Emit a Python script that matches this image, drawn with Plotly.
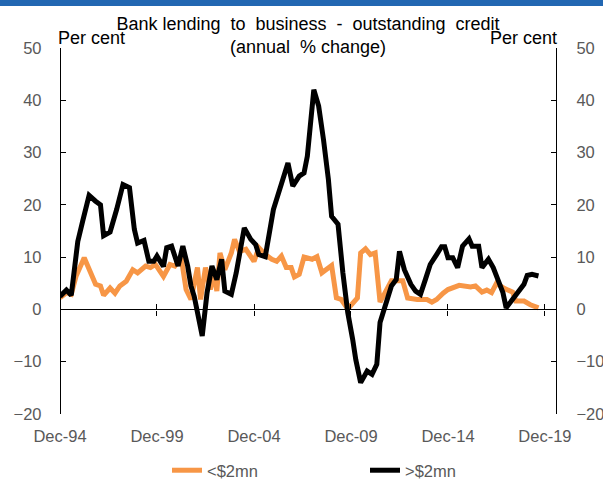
import plotly.graph_objects as go

# ---- data ----
small_dates = ["1994-12", "1995-04", "1995-07", "1995-10", "1996-03", "1996-07", "1996-10", "1997-01",
               "1997-03", "1997-07", "1997-10", "1998-01", "1998-05", "1998-09", "1998-12", "1999-05",
               "1999-08", "1999-11", "2000-04", "2000-08", "2000-11", "2001-03", "2001-06", "2001-09",
               "2002-01", "2002-03", "2002-06", "2002-09", "2002-11", "2003-01", "2003-03", "2003-06",
               "2003-10", "2003-12", "2004-03", "2004-07", "2004-12", "2005-03", "2005-07", "2005-11",
               "2006-02", "2006-05", "2006-08", "2006-11", "2007-01", "2007-04", "2007-07", "2007-12",
               "2008-03", "2008-06", "2008-09", "2008-12", "2009-03", "2009-06", "2009-10", "2010-04",
               "2010-06", "2010-09", "2010-12", "2011-03", "2011-06", "2011-11", "2012-01", "2012-08",
               "2012-11", "2013-05", "2013-11", "2014-02", "2014-05", "2014-09", "2014-12", "2015-07",
               "2016-02", "2016-05", "2016-09", "2016-12", "2017-03", "2017-06", "2017-11", "2018-04",
               "2018-06", "2018-11", "2019-03", "2019-08"]
small_values = [2.2, 3.2, 2.9, 6.4, 9.9, 7.3, 4.8, 4.5,
                2.7, 4.1, 3.1, 4.5, 5.4, 7.6, 7.0, 8.3,
                8.0, 8.6, 6.3, 8.6, 8.3, 9.9, 3.8, 1.9,
                8.0, 1.9, 8.0, 3.8, 7.0, 3.5, 10.8, 7.6,
                10.8, 13.4, 11.1, 11.5, 9.2, 11.8, 10.5, 9.6,
                9.2, 10.2, 8.0, 8.0, 6.2, 6.7, 10.0, 9.6,
                10.1, 7.0, 7.8, 8.4, 2.2, 1.9, 0.1, 2.2,
                10.8, 11.6, 10.5, 10.8, 1.4, 4.5, 5.5, 5.5,
                2.2, 1.9, 1.9, 1.4, 1.9, 3.1, 3.8, 4.6,
                4.3, 4.5, 3.3, 3.7, 3.2, 5.0, 4.0, 3.3,
                1.6, 1.6, 0.9, 0.3]

large_dates = ["1994-12", "1995-04", "1995-07", "1995-11", "1996-02", "1996-06", "1996-10", "1997-01",
               "1997-03", "1997-07", "1997-11", "1998-03", "1998-07", "1998-10", "1998-12", "1999-04",
               "1999-07", "1999-10", "1999-12", "2000-04", "2000-06", "2000-09", "2001-01", "2001-04",
               "2001-07", "2001-09", "2001-11", "2002-04", "2002-07", "2002-10", "2003-01", "2003-04",
               "2003-06", "2003-10", "2004-01", "2004-06", "2004-10", "2005-01", "2005-03", "2005-07",
               "2005-12", "2006-05", "2006-09", "2006-12", "2007-04", "2007-07", "2007-09", "2008-01",
               "2008-04", "2008-07", "2008-10", "2008-12", "2009-04", "2009-07", "2009-10", "2010-01",
               "2010-03", "2010-06", "2010-10", "2011-01", "2011-04", "2011-06", "2011-10", "2012-01",
               "2012-04", "2012-06", "2012-09", "2013-01", "2013-04", "2013-07", "2013-10", "2014-01",
               "2014-05", "2014-08", "2014-10", "2014-12", "2015-03", "2015-06", "2015-09", "2016-01",
               "2016-03", "2016-07", "2016-09", "2017-01", "2017-04", "2017-07", "2017-10", "2017-12",
               "2018-04", "2018-07", "2018-11", "2019-01", "2019-04", "2019-08"]
large_values = [2.5, 3.7, 2.7, 13.0, 16.9, 21.8, 20.7, 20.0,
                14.1, 14.8, 19.1, 23.9, 23.3, 15.3, 12.7, 13.2,
                9.2, 9.2, 10.2, 8.2, 11.8, 12.1, 8.3, 12.1,
                8.3, 4.5, 2.5, -5.1, 3.2, 8.3, 5.7, 9.6,
                3.5, 2.9, 7.0, 15.6, 13.4, 12.4, 10.5, 10.1,
                19.1, 23.6, 28.0, 23.6, 25.5, 26.1, 29.3, 42.0,
                38.9, 32.5, 24.9, 17.8, 16.3, 7.0, -0.6, -5.7,
                -9.6, -14.0, -11.8, -12.4, -10.5, -2.5, 1.9, 4.5,
                5.7, 11.1, 7.6, 4.8, 3.5, 2.9, 5.7, 8.6,
                10.5, 12.0, 12.0, 9.9, 9.9, 8.0, 12.1, 13.5,
                12.1, 12.1, 8.0, 9.6, 8.0, 5.7, 3.2, 0.3,
                1.9, 2.9, 4.8, 6.5, 6.7, 6.4]

series_names = ["<$2mn", ">$2mn"]
tick_dates = ["1994-12-01", "1999-12-01", "2004-12-01", "2009-12-01", "2014-12-01", "2019-12-01"]
tick_labels = ["Dec-94", "Dec-99", "Dec-04", "Dec-09", "Dec-14", "Dec-19"]
y_ticks = [-20, -10, 0, 10, 20, 30, 40, 50]
title_text = "Bank lending\u00a0 to\u00a0 business\u00a0 -\u00a0 outstanding\u00a0 credit<br>(annual\u00a0 % change)"

# ---- style ----
ORANGE = "#F79646"
BLACK = "#000000"
GREY = "#595959"
BAND = "#2267B2"
FONT = "Liberation Sans, Arial, sans-serif"
X_RANGE = ["1994-12-01", "2020-06-26"]
Y_RANGE = [-20, 50]
zero_pos = (0 - Y_RANGE[0]) / (Y_RANGE[1] - Y_RANGE[0])
PLOT_H = 480 - 48 - 66

fig = go.Figure()
fig.add_trace(go.Scatter(x=small_dates, y=small_values, name=series_names[0], mode="lines",
                         line=dict(color=ORANGE, width=5), xaxis="x", yaxis="y"))
fig.add_trace(go.Scatter(x=large_dates, y=large_values, name=series_names[1], mode="lines",
                         line=dict(color=BLACK, width=5), xaxis="x2", yaxis="y2"))

common_x = dict(type="date", range=X_RANGE, tickmode="array", tickvals=tick_dates,
                showgrid=False, zeroline=False, showline=True, linecolor=BLACK, linewidth=1.3,
                tickcolor=BLACK, ticklen=5, tickwidth=1.3, anchor="free", position=zero_pos,
                automargin=False)
common_y = dict(range=Y_RANGE, tickmode="array", tickvals=y_ticks, ticks="inside", ticklen=5,
                tickwidth=1.3, tickcolor=BLACK, showline=True, linecolor=BLACK, linewidth=1.3,
                showgrid=False, zeroline=False, automargin=False,
                tickfont=dict(size=16.5, color=GREY))

fig.update_layout(
    width=603, height=480,
    margin=dict(l=60, r=47, t=48, b=66, autoexpand=False),
    paper_bgcolor="white", plot_bgcolor="white",
    font=dict(family=FONT, size=16, color=GREY),
    showlegend=True,
    title=dict(text=title_text,
               font=dict(family=FONT, size=18, color="black"),
               x=0.5, xref="paper", xanchor="center", y=0.938, yref="container", yanchor="top"),
    xaxis=dict(**common_x, ticks="outside", ticktext=tick_labels, showticklabels=True,
               ticklabelstandoff=107, tickfont=dict(size=16.5, color=GREY)),
    xaxis2=dict(**common_x, ticks="inside", overlaying="x", showticklabels=False),
    yaxis=dict(**common_y, anchor="free", position=0, side="left", ticklabelstandoff=15),
    yaxis2=dict(**common_y, overlaying="y", side="right", anchor="x", ticklabelstandoff=16),
    legend=dict(orientation="h", xref="container", x=167 / 603, xanchor="left",
                y=-39 / PLOT_H, yanchor="top",
                entrywidth=153, entrywidthmode="pixels", font=dict(size=16.5, color=GREY),
                bgcolor="rgba(0,0,0,0)"),
    shapes=[
        dict(type="rect", xref="paper", yref="paper", x0=-0.15, x1=1.15,
             y0=1 + 42 / PLOT_H, y1=1 + 48.5 / PLOT_H,
             fillcolor=BAND, line=dict(width=0), layer="below"),
        dict(type="line", xref="paper", yref="paper", x0=-0.15, x1=1.15,
             y0=1 + 45.5 / PLOT_H, y1=1 + 45.5 / PLOT_H,
             line=dict(color=BAND, width=5), layer="above"),
    ],
    annotations=[
        dict(text="Per cent", xref="paper", yref="paper", x=-0.008, y=1 + 10 / PLOT_H,
             xanchor="left", yanchor="middle", showarrow=False,
             font=dict(family=FONT, size=18, color="black")),
        dict(text="Per cent", xref="paper", yref="paper", x=1.006, y=1 + 10 / PLOT_H,
             xanchor="right", yanchor="middle", showarrow=False,
             font=dict(family=FONT, size=18, color="black")),
    ],
)

fig.write_html("out.html", config={"displayModeBar": False},
               post_script="document.body.style.margin='0';document.body.style.overflow='hidden';")
